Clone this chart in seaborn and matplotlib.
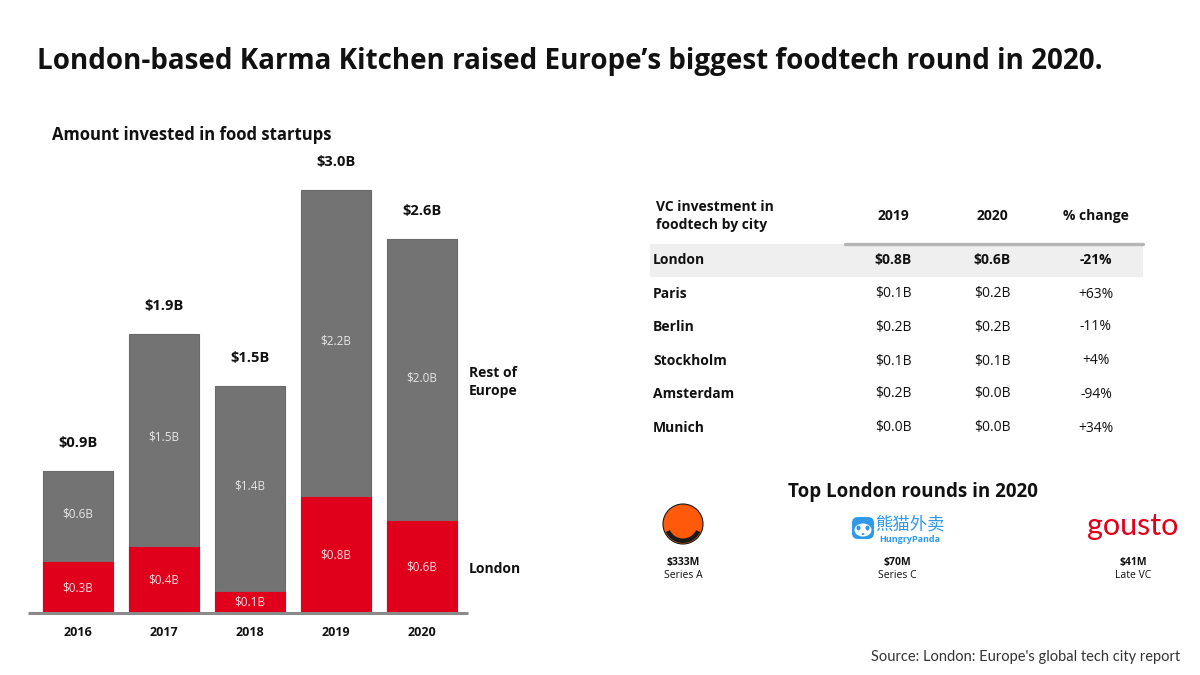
import numpy as np
import pandas as pd
import matplotlib
matplotlib.use("Agg")
import matplotlib.pyplot as plt
import matplotlib.patches as mpatches
import seaborn as sns

# Bar chart data (heights, labels as printed)
years = ["2016", "2017", "2018", "2019", "2020"]
london = [0.36, 0.47, 0.15, 0.82, 0.65]
rest_of_europe = [0.65, 1.51, 1.46, 2.18, 2.00]
total_labels = ["$0.9B", "$1.9B", "$1.5B", "$3.0B", "$2.6B"]
london_labels = ["$0.3B", "$0.4B", "$0.1B", "$0.8B", "$0.6B"]
rest_labels = ["$0.6B", "$1.5B", "$1.4B", "$2.2B", "$2.0B"]

# Table data
cities = ["London", "Paris", "Berlin", "Stockholm", "Amsterdam", "Munich"]
inv_2019 = ["$0.8B", "$0.1B", "$0.2B", "$0.1B", "$0.2B", "$0.0B"]
inv_2020 = ["$0.6B", "$0.2B", "$0.2B", "$0.1B", "$0.0B", "$0.0B"]
pct_change = ["-21%", "+63%", "-11%", "+4%", "-94%", "+34%"]

# Top London rounds
round_amounts = ["$333M", "$70M", "$41M"]
round_stages = ["Series A", "Series C", "Late VC"]

RED = "#e0001b"
GREY = "#737373"

sns.set_theme(style="white")
plt.rcParams["font.family"] = ["Open Sans", "Noto Sans CJK SC", "DejaVu Sans"]

W, H = 1200, 675
fig = plt.figure(figsize=(12, 6.75), dpi=100)
fig.patch.set_facecolor("white")


def fx(x):
    return x / W


def fy(y):
    return 1 - y / H


# --- stacked bars ---
px_per_b = 141
base_y, top_y = 613, 150
ax = fig.add_axes([fx(35), fy(base_y), 430 / W, (base_y - top_y) / H])
df = pd.DataFrame({"year": years, "london": london, "rest": rest_of_europe})
df["total"] = df["london"] + df["rest"]

sns.barplot(data=df, x="year", y="total", color=GREY, width=0.814,
            saturation=1, ax=ax, edgecolor="#6a6a6a", linewidth=0.8)
sns.barplot(data=df, x="year", y="london", color=RED, width=0.814,
            saturation=1, ax=ax, edgecolor=RED, linewidth=0.8)

ax.set_xlim(-0.5, 4.5)
ax.set_ylim(0, (base_y - top_y) / px_per_b)
sns.despine(ax=ax, left=True, bottom=True, top=True, right=True)
ax.set_xlabel("")
ax.set_ylabel("")
ax.set_yticks([])
ax.set_xticks([])
ax.plot([-0.58, 4.53], [0, 0], color="#8a8a8a", lw=2.2, clip_on=False,
        solid_capstyle="butt")

off = 28 / px_per_b
for i, yr in enumerate(years):
    tot = df["total"][i]
    ax.text(i, tot + off, total_labels[i], ha="center", va="center",
            fontsize=10.5, fontweight="bold", color="#111111")
    ax.text(i, london[i] / 2, london_labels[i], ha="center", va="center",
            fontsize=8.5, color="#f3e0e0")
    ax.text(i, london[i] + rest_of_europe[i] / 2 + 0.02, rest_labels[i],
            ha="center", va="center", fontsize=8.5, color="#e6e6e6")
    ax.text(i, -20 / px_per_b, yr, ha="center", va="center",
            fontsize=9, fontweight="bold", color="#111111")

# overlay in pixel coordinates for all free text and logos
ov = fig.add_axes([0, 0, 1, 1], zorder=5)
ov.set_xlim(0, W)
ov.set_ylim(H, 0)
ov.axis("off")
ov.patch.set_alpha(0)

ov.text(37, 62, "London-based Karma Kitchen raised Europe\u2019s biggest foodtech round in 2020.",
        fontsize=20, fontweight="bold", color="#111111", va="center", ha="left")
ov.text(52, 135, "Amount invested in food startups", fontsize=12,
        fontweight="bold", color="#111111", va="center")
ov.text(469, 382, "Rest of\nEurope", fontsize=10, fontweight="bold",
        color="#111111", va="center", linespacing=1.3)
ov.text(469, 569, "London", fontsize=10, fontweight="bold",
        color="#111111", va="center")

# --- table ---
ov.text(656, 216, "VC investment in\nfoodtech by city", fontsize=10,
        fontweight="bold", color="#111111", va="center", linespacing=1.3)
col_x = [893, 992, 1096]
for x, h in zip(col_x, ["2019", "2020", "% change"]):
    ov.text(x, 216, h, fontsize=10, fontweight="bold", color="#111111",
            ha="center", va="center")
ov.add_patch(mpatches.Rectangle((650, 244), 493, 33, color="#efefef", lw=0))
ov.plot([845, 1143], [243.5, 243.5], color="#b5b5b5", lw=2.4)
row_y = [260, 294, 327, 361, 394, 428]
for i, c in enumerate(cities):
    wt = "bold" if i == 0 else "normal"
    ov.text(653, row_y[i], c, fontsize=10, fontweight="bold", color="#111111",
            va="center")
    for x, v in zip(col_x, [inv_2019[i], inv_2020[i], pct_change[i]]):
        ov.text(x, row_y[i], v, fontsize=10, fontweight=wt, color="#111111",
                ha="center", va="center")

# --- top rounds ---
ov.text(913, 492, "Top London rounds in 2020", fontsize=13.5,
        fontweight="bold", color="#111111", ha="center", va="center")

# Karma Kitchen badge
ov.add_patch(mpatches.Circle((683, 524), 20, color="#ff5a0a", lw=0))
ov.add_patch(mpatches.Wedge((683, 524), 19, 25, 155, width=4.5,
                            color="#1a1a1a", lw=0))
ov.add_patch(mpatches.Circle((683, 524), 20, fill=False, ec="#1a1a1a", lw=0.8))

# HungryPanda logo
ov.add_patch(mpatches.FancyBboxPatch((853, 518), 20, 20,
                                     boxstyle="round,pad=1,rounding_size=6",
                                     color="#2f9be8", lw=0))
ov.add_patch(mpatches.Ellipse((863, 530), 17, 13, color="white", lw=0))
ov.add_patch(mpatches.Ellipse((858.5, 528), 4, 5, color="#2f9be8", lw=0))
ov.add_patch(mpatches.Ellipse((867.5, 528), 4, 5, color="#2f9be8", lw=0))
ov.add_patch(mpatches.Ellipse((863, 534), 3, 2, color="#2f9be8", lw=0))
ov.text(910, 524, "熊猫外卖", fontsize=12.5, color="#2f9be8",
        ha="center", va="center",
        family=["Noto Sans CJK SC", "DejaVu Sans"])
ov.text(910, 539, "HungryPanda", fontsize=6.5, color="#2f9be8",
        fontweight="bold", ha="center", va="center")

# gousto wordmark
ov.text(1133, 526, "gousto", fontsize=22, color=RED, ha="center",
        va="center", family=["Lato", "DejaVu Sans"])

for x, amt, stg in zip([683, 897, 1133], round_amounts, round_stages):
    ov.text(x, 562, amt, fontsize=7.5, fontweight="bold", color="#111111",
            ha="center", va="center")
    ov.text(x, 576, stg, fontsize=7.5, color="#111111", ha="center",
            va="center")

ov.text(1180, 657, "Source: London: Europe's global tech city report",
        fontsize=10.5, color="#333333", ha="right", va="center",
        family=["Lato", "DejaVu Sans"])

fig.savefig("out.png", dpi=100)
